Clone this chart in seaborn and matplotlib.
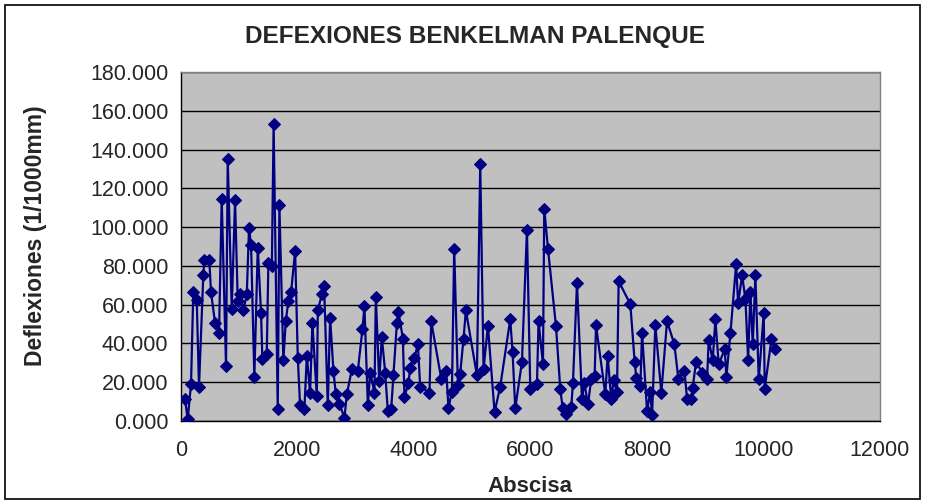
import matplotlib
matplotlib.use("Agg")
import matplotlib.pyplot as plt
import seaborn as sns
import pandas as pd
from matplotlib.ticker import FuncFormatter, MultipleLocator
from matplotlib.patches import Rectangle

abscisa = [69, 115, 172, 211, 270, 309, 383, 400, 486, 515, 584, 653, 699, 773, 802,
           871, 928, 974, 1014, 1070, 1129, 1168, 1203, 1259, 1318, 1374, 1397, 1472,
           1500, 1560, 1590, 1661, 1689, 1757, 1799, 1843, 1890, 1959, 2005, 2044, 2118,
           2160, 2216, 2256, 2331, 2349, 2417, 2457, 2520, 2560, 2617, 2658, 2720, 2806,
           2847, 2933, 3036, 3115, 3149, 3208, 3247, 3321, 3345, 3402, 3448, 3505, 3551,
           3608, 3647, 3706, 3733, 3809, 3836, 3905, 3934, 4008, 4067, 4106, 4266, 4295,
           4467, 4553, 4592, 4651, 4690, 4754, 4793, 4850, 4891, 5080, 5137, 5194, 5269,
           5383, 5480, 5652, 5692, 5738, 5853, 5939, 5996, 6111, 6138, 6214, 6236, 6300,
           6437, 6511, 6551, 6609, 6700, 6729, 6798, 6884, 6924, 6987, 7044, 7101, 7125,
           7284, 7324, 7387, 7427, 7485, 7513, 7714, 7788, 7817, 7886, 7915, 8001, 8057,
           8087, 8143, 8246, 8344, 8470, 8538, 8642, 8688, 8762, 8784, 8843, 8946, 9032,
           9059, 9128, 9174, 9231, 9334, 9363, 9432, 9530, 9564, 9633, 9690, 9736, 9775,
           9815, 9861, 9918, 10004, 10021, 10136, 10193]
deflexion = [11.2, 0.9, 19.0, 66.5, 62.4, 17.7, 75.3, 83.0, 83.0, 66.5, 50.7, 45.2, 114.6,
             28.4, 135.0, 58.0, 113.8, 61.9, 65.3, 57.0, 65.3, 99.7, 90.6, 22.7, 89.4, 55.9,
             31.8, 34.4, 81.6, 80.0, 153.0, 6.0, 111.3, 31.4, 51.5, 62.0, 66.5, 87.6, 32.7,
             8.1, 6.0, 33.5, 14.6, 50.7, 12.9, 57.0, 65.3, 69.6, 8.1, 53.3, 25.8, 13.8, 8.6,
             1.8, 13.8, 26.6, 26.0, 47.3, 59.3, 8.1, 25.0, 14.6, 64.1, 20.6, 43.3, 25.0, 5.2,
             6.0, 23.7, 50.4, 56.4, 42.5, 12.6, 19.4, 27.5, 32.7, 39.5, 17.7, 14.6, 51.5, 21.9,
             25.8, 6.9, 15.0, 88.9, 18.4, 24.4, 42.5, 57.0, 23.6, 132.3, 27.0, 49.0, 4.6, 17.7,
             52.4, 35.6, 6.5, 30.4, 98.5, 16.7, 19.0, 51.5, 29.2, 109.5, 88.9, 49.0, 16.7, 6.9,
             3.5, 7.2, 19.8, 71.0, 11.2, 19.8, 8.6, 21.9, 23.2, 49.3, 13.8, 33.6, 11.2, 21.1,
             15.0, 72.2, 60.2, 30.6, 22.4, 18.0, 45.6, 5.2, 15.0, 2.9, 49.3, 14.6, 51.5, 39.5,
             21.9, 26.0, 11.5, 11.3, 17.2, 30.6, 25.0, 21.9, 41.8, 31.4, 52.4, 29.2, 37.0, 22.7,
             45.2, 80.8, 60.7, 75.1, 62.7, 31.4, 66.5, 39.5, 75.1, 21.5, 55.5, 16.7, 42.1, 37.3]

title = "DEFEXIONES BENKELMAN PALENQUE"
xlabel = "Abscisa"
ylabel = "Deflexiones (1/1000mm)"

df = pd.DataFrame({"Abscisa": abscisa, "Deflexion": deflexion})

sns.set_style("white")
plt.rcParams["font.family"] = ["Liberation Sans", "DejaVu Sans"]

fig = plt.figure(figsize=(9.26, 5.04), dpi=100)
fig.patch.set_facecolor("white")
ax = fig.add_axes([181 / 926, 83 / 504, 699 / 926, 349 / 504])
ax.set_facecolor("#C0C0C0")

sns.lineplot(data=df, x="Abscisa", y="Deflexion", sort=False, ax=ax,
             color="#000080", linewidth=1.6, marker="D", markersize=6.5,
             markeredgecolor="#000080", markerfacecolor="#000080", zorder=3)

ax.set_xlim(0, 12000)
ax.set_ylim(0, 180)
ax.xaxis.set_major_locator(MultipleLocator(2000))
ax.yaxis.set_major_locator(MultipleLocator(20))
ax.yaxis.set_major_formatter(FuncFormatter(lambda v, p: f"{v:.3f}"))
ax.grid(axis="y", color="black", linewidth=1.0)
ax.grid(axis="x", visible=False)
ax.set_axisbelow(True)
for s in ax.spines.values():
    s.set_color("#808080")
    s.set_linewidth(1.0)
ax.spines["left"].set_color("black")
ax.spines["bottom"].set_color("black")
ax.tick_params(axis="both", which="major", direction="out", length=5, width=1,
               color="#808080", labelsize=15.5, pad=4)
ax.tick_params(axis="x", pad=9)

ax.set_xlabel(xlabel, fontsize=16, fontweight="bold")
ax.set_ylabel(ylabel, fontsize=16.5, fontweight="bold")
ax.xaxis.set_label_coords((530 - 181) / 699, (421 - 487) / 349)
ax.yaxis.set_label_coords((35 - 181) / 699, (421 - 236) / 349)
ax.xaxis.label.set_va("center")
ax.yaxis.label.set_va("center")
fig.text(475 / 926, 1 - 37 / 504, title, ha="center", va="center",
         fontsize=17.6, fontweight="bold")

fig.add_artist(Rectangle((5 / 926, 5 / 504), 915 / 926, 494 / 504,
                         transform=fig.transFigure, fill=False,
                         edgecolor="black", linewidth=1.2))

fig.savefig("out.png", dpi=100)
